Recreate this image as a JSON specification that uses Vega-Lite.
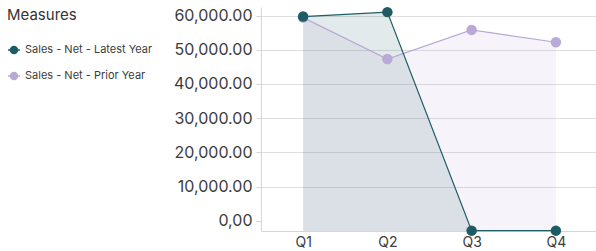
{
  "$schema": "https://vega.github.io/schema/vega-lite/v6.json",
  "autosize": {"type": "none"},
  "padding": {"left": 261, "top": 7, "right": 0, "bottom": 20},
  "width": 337,
  "height": 224,
  "config": {
    "font": "Inter",
    "view": {"stroke": null},
    "axis": {"labelFont": "Inter", "labelColor": "#3c3c3c", "domainColor": "#d6d6d6", "gridColor": "#dedede", "tickColor": "#d6d6d6"}
  },
  "data": {
    "values": [
      {"quarter": "Q1", "measure": "Sales - Net - Prior Year", "value": 59400},
      {"quarter": "Q2", "measure": "Sales - Net - Prior Year", "value": 47300},
      {"quarter": "Q3", "measure": "Sales - Net - Prior Year", "value": 55800},
      {"quarter": "Q4", "measure": "Sales - Net - Prior Year", "value": 52200},
      {"quarter": "Q1", "measure": "Sales - Net - Latest Year", "value": 59700},
      {"quarter": "Q2", "measure": "Sales - Net - Latest Year", "value": 61000},
      {"quarter": "Q3", "measure": "Sales - Net - Latest Year", "value": -2900},
      {"quarter": "Q4", "measure": "Sales - Net - Latest Year", "value": -2900}
    ]
  },
  "encoding": {
    "x": {
      "field": "quarter", "type": "ordinal",
      "scale": {"type": "point", "padding": 0.5},
      "axis": {"title": null, "labelAngle": 0, "ticks": false, "labelFontSize": 14, "labelPadding": 4, "grid": false}
    },
    "y": {
      "field": "value", "type": "quantitative",
      "scale": {"domain": [-3000, 62500], "nice": false, "zero": false},
      "axis": {
        "title": null,
        "values": [0, 10000, 20000, 30000, 40000, 50000, 60000],
        "labelExpr": "datum.value == 0 ? '0,00' : format(datum.value, ',.2f')",
        "labelFontSize": 16,
        "labelPadding": 4,
        "tickSize": 5,
        "gridColor": {"condition": {"test": "datum.value == 0", "value": "transparent"}, "value": "#dedede"}
      }
    },
    "color": {
      "field": "measure", "type": "nominal",
      "scale": {"domain": ["Sales - Net - Latest Year", "Sales - Net - Prior Year"], "range": ["#1d5c63", "#b9a9d6"]},
      "legend": {
        "title": "Measures",
        "orient": "none",
        "legendX": -254,
        "legendY": 1,
        "titleFont": "Inter",
        "titleFontSize": 15,
        "titleFontWeight": "normal",
        "titleColor": "#333333",
        "titlePadding": 20,
        "labelFont": "Inter",
        "labelFontSize": 11,
        "labelColor": "#3c3c3c",
        "rowPadding": 12,
        "labelOffset": 4,
        "encode": {
          "symbols": {
            "update": {
              "shape": {"value": "M-1,0L1,0M-0.6,0A0.6,0.6,0,1,1,0.6,0A0.6,0.6,0,1,1,-0.6,0Z"},
              "size": {"value": 144},
              "strokeWidth": {"value": 1.3},
              "stroke": {"scale": "color", "field": "value"},
              "fill": {"scale": "color", "field": "value"},
              "opacity": {"value": 1},
              "fillOpacity": {"value": 1},
              "strokeOpacity": {"value": 1}
            }
          }
        }
      }
    }
  },
  "layer": [
    {
      "mark": {"type": "area", "fillOpacity": 0.13, "line": false},
      "encoding": {
        "y2": {"datum": -3000}
      }
    },
    {
      "mark": {"type": "line", "strokeWidth": 1.2},
      "encoding": {}
    },
    {
      "mark": {"type": "point", "filled": true, "size": 110, "opacity": 1},
      "encoding": {}
    }
  ]
}
